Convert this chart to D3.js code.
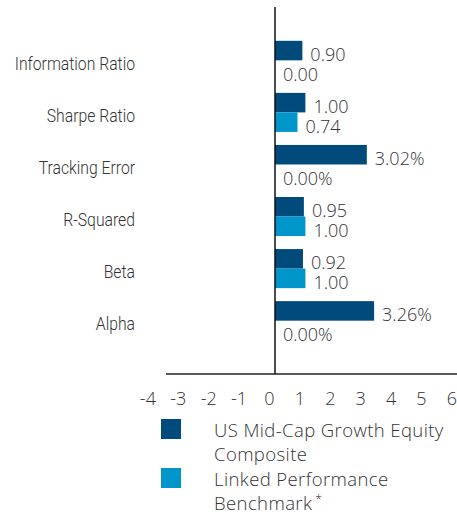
<!DOCTYPE html>
<html>
<head>
<meta charset="utf-8">
<script src="https://cdn.jsdelivr.net/npm/d3@7"></script>
<style>
  body { margin: 0; background: #fff; }
  svg text { fill: #333; }
</style>
</head>
<body>
<svg id="mainsvg" width="457" height="516"></svg>
<script>
// data
const categories = ['Information Ratio', 'Sharpe Ratio', 'Tracking Error', 'R-Squared', 'Beta', 'Alpha'];
const series = ['US Mid-Cap Growth Equity Composite', 'Linked Performance Benchmark*'];
const compositeValues = [0.90, 1.00, 3.02, 0.95, 0.92, 3.26];
const benchmarkValues = [0.00, 0.74, 0.00, 1.00, 1.00, 0.00];
const valueLabels = [
  ['0.90', '1.00', '3.02%', '0.95', '0.92', '3.26%'],
  ['0.00', '0.74', '0.00%', '1.00', '1.00', '0.00%']
];
const xTicks = [-4, -3, -2, -1, 0, 1, 2, 3, 4, 5, 6];
const colors = ['#004a7c', '#0096cc'];

const svg = d3.select('#mainsvg');
const width = +svg.attr('width');
const numFont = '"Open Sans", Roboto, sans-serif';
const catFont = 'Roboto, "Liberation Sans", sans-serif';

const xScale = d3.scaleLinear().domain([-4, 6]).range([153.4, 457.4]);
const yScale = d3.scaleBand().domain(categories).range([33, 348]).paddingInner(0.25).paddingOuter(0.15);
const ySub = d3.scaleBand().domain([0, 1]).range([0, yScale.bandwidth()]);

const rows = categories.map((c, i) => ({cat: c, vals: [compositeValues[i], benchmarkValues[i]], labels: [valueLabels[0][i], valueLabels[1][i]]}));

// bars
const groups = svg.selectAll('.cat')
  .data(rows)
  .join('g')
  .attr('class', 'cat')
  .attr('transform', d => `translate(0, ${yScale(d.cat)})`);

groups.selectAll('rect')
  .data(d => d.vals.map((v, k) => ({v, k})))
  .join('rect')
  .attr('x', xScale(0))
  .attr('y', d => ySub(d.k))
  .attr('width', d => xScale(d.v) - xScale(0))
  .attr('height', ySub.bandwidth())
  .attr('fill', d => colors[d.k]);

groups.selectAll('text.val')
  .data(d => d.vals.map((v, k) => ({v, k, label: d.labels[k]})))
  .join('text')
  .attr('class', 'val')
  .attr('x', d => xScale(d.v) + 8)
  .attr('y', d => ySub(d.k) + ySub.bandwidth() / 2 + 10.5)
  .style('font-family', numFont)
  .style('font-weight', 300)
  .style('font-size', '18px')
  .text(d => d.label);

// category labels (condensed look: squeeze horizontally)
svg.selectAll('.catLabel')
  .data(categories)
  .join('text')
  .attr('class', 'catLabel')
  .attr('x', 0)
  .attr('y', 0)
  .attr('transform', d => `translate(135, ${yScale(d) + yScale.bandwidth() / 2 + 9.5}) scale(0.9, 1)`)
  .attr('text-anchor', 'end')
  .style('font-family', catFont)
  .style('font-weight', 300)
  .style('font-size', '17.5px')
  .text(d => d);

// zero line
svg.append('line')
  .attr('x1', xScale(0)).attr('x2', xScale(0))
  .attr('y1', 7).attr('y2', 374)
  .attr('stroke', '#111').attr('stroke-width', 1.5);

// x axis
const axisY = 374;
svg.append('line')
  .attr('x1', 166).attr('x2', width)
  .attr('y1', axisY).attr('y2', axisY)
  .attr('stroke', '#222').attr('stroke-width', 1.5);

const xAxis = svg.append('g')
  .attr('transform', `translate(0, ${axisY})`)
  .call(d3.axisBottom(xScale).tickValues(xTicks).tickSize(0).tickPadding(0).tickFormat(d => String(d)));
xAxis.select('.domain').remove();
xAxis.selectAll('text')
  .attr('dx', -6)
  .attr('y', 31)
  .attr('dy', 0)
  .style('font-family', numFont)
  .style('font-weight', 300)
  .style('font-size', '18px')
  .style('fill', '#333');

// legend
const legendLines = [['US Mid-Cap Growth Equity', 'Composite'], ['Linked Performance', 'Benchmark']];
const legend = svg.append('g').attr('transform', 'translate(161, 419)');
const items = legend.selectAll('.legend-item')
  .data(series)
  .join('g')
  .attr('class', 'legend-item')
  .attr('transform', (d, i) => `translate(0, ${i * 49})`);

items.append('rect')
  .attr('width', 20).attr('height', 20)
  .attr('fill', (d, i) => colors[i]);

const legendText = items.append('text')
  .attr('x', 53)
  .attr('y', 18)
  .style('font-family', numFont)
  .style('font-weight', 300)
  .style('font-size', '18.5px')
  .style('letter-spacing', '0.4px');

legendText.selectAll('tspan')
  .data((d, i) => legendLines[i])
  .join('tspan')
  .attr('x', 53)
  .attr('dy', (d, j) => j === 0 ? 0 : 23.5)
  .text(d => d);

// small raised asterisk after "Benchmark"
legendText.filter((d, i) => i === 1)
  .append('tspan')
  .attr('dx', 3)
  .attr('dy', -6)
  .style('font-size', '12px')
  .text('*');
</script>
</body>
</html>
